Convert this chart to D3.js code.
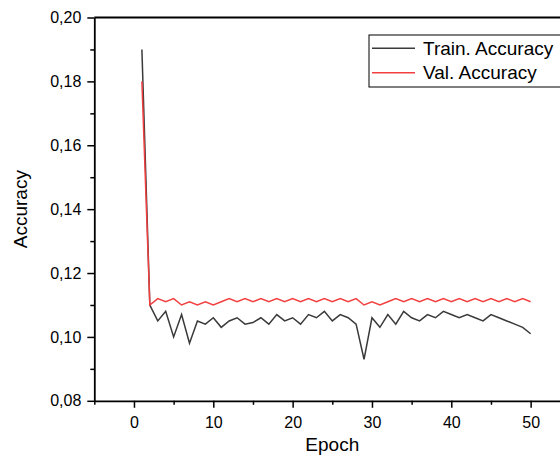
<!DOCTYPE html>
<html>
<head>
<meta charset="utf-8">
<script src="https://cdn.jsdelivr.net/npm/d3@7"></script>
<style>
  html, body { margin: 0; padding: 0; background: #fff; }
  svg { display: block; font-family: "Liberation Sans", Arial, sans-serif; }
</style>
</head>
<body>
<svg id="chart" width="560" height="456"></svg>
<script>
// DATA SECTION

let epochs = d3.range(1, 51);

let trainAcc = [0.190, 0.110, 0.105, 0.108, 0.100, 0.107, 0.098, 0.105, 0.104, 0.106,
                0.103, 0.105, 0.106, 0.104, 0.1045, 0.106, 0.104, 0.107, 0.105, 0.106,
                0.104, 0.107, 0.106, 0.108, 0.105, 0.107, 0.106, 0.104, 0.093, 0.106,
                0.103, 0.107, 0.104, 0.108, 0.106, 0.105, 0.107, 0.106, 0.108, 0.107,
                0.106, 0.107, 0.106, 0.105, 0.107, 0.106, 0.105, 0.104, 0.103, 0.101];

let valAcc = [0.180, 0.110, 0.112, 0.111, 0.112, 0.110, 0.111, 0.110, 0.111, 0.110,
              0.111, 0.112, 0.111, 0.112, 0.111, 0.112, 0.111, 0.112, 0.111, 0.112,
              0.111, 0.112, 0.111, 0.112, 0.111, 0.112, 0.111, 0.112, 0.110, 0.111,
              0.110, 0.111, 0.112, 0.111, 0.112, 0.111, 0.112, 0.111, 0.112, 0.111,
              0.112, 0.111, 0.112, 0.111, 0.112, 0.111, 0.112, 0.111, 0.112, 0.111];

let xTicks = [0, 10, 20, 30, 40, 50];
let yTicks = [0.08, 0.10, 0.12, 0.14, 0.16, 0.18, 0.20];
let seriesNames = ['Train. Accuracy', 'Val. Accuracy'];
let seriesColors = ['#3a3a3a', '#f24040'];

// SCALES

let svg = d3.select('#chart');

let x = d3.scaleLinear()
  .domain([-5, 55])
  .range([94.3, 570.3]);

let y = d3.scaleLinear()
  .domain([0.08, 0.20])
  .range([400.8, 17.5]);

let commaFmt = d3.formatLocale({decimal: ',', thousands: '.', grouping: [3], currency: ['', '']}).format('.2f');

// top frame line
svg.append('line')
  .attr('x1', x(-5)).attr('x2', x(55))
  .attr('y1', y(0.20)).attr('y2', y(0.20))
  .attr('stroke', '#000')
  .attr('stroke-width', 1.8);

// minor ticks
svg.append('g')
  .attr('transform', `translate(0,${y(0.08)})`)
  .call(d3.axisBottom(x).tickValues(d3.range(-5, 56, 10)).tickSize(4).tickFormat(''))
  .call(g => g.select('.domain').remove())
  .call(g => g.selectAll('.tick line').attr('stroke-width', 1.5));

svg.append('g')
  .attr('transform', `translate(${x(-5)},0)`)
  .call(d3.axisLeft(y).tickValues([0.09, 0.11, 0.13, 0.15, 0.17, 0.19]).tickSize(4).tickFormat(''))
  .call(g => g.select('.domain').remove())
  .call(g => g.selectAll('.tick line').attr('stroke-width', 1.5));

// x axis
svg.append('g')
  .attr('class', 'x-axis')
  .attr('transform', `translate(0,${y(0.08)})`)
  .call(d3.axisBottom(x).tickValues(xTicks).tickSize(7).tickSizeOuter(0).tickPadding(9))
  .call(g => g.select('.domain').attr('stroke-width', 1.8))
  .call(g => g.selectAll('.tick line').attr('stroke-width', 1.5))
  .call(g => g.selectAll('.tick text')
    .attr('font-family', '"Liberation Sans", Arial, sans-serif')
    .attr('font-size', 16)
    .attr('fill', '#000'));

// y axis
svg.append('g')
  .attr('class', 'y-axis')
  .attr('transform', `translate(${x(-5)},0)`)
  .call(d3.axisLeft(y).tickValues(yTicks).tickFormat(commaFmt).tickSize(7).tickSizeOuter(0).tickPadding(6))
  .call(g => g.select('.domain').attr('stroke-width', 1.8))
  .call(g => g.selectAll('.tick line').attr('stroke-width', 1.5))
  .call(g => g.selectAll('.tick text')
    .attr('font-family', '"Liberation Sans", Arial, sans-serif')
    .attr('font-size', 16)
    .attr('fill', '#000'));

// axis titles
svg.append('text')
  .attr('x', (x(-5) + x(55)) / 2)
  .attr('y', 451)
  .attr('text-anchor', 'middle')
  .attr('font-size', 19)
  .text('Epoch');

svg.append('text')
  .attr('transform', `translate(27,${(y(0.08) + y(0.20)) / 2}) rotate(-90)`)
  .attr('text-anchor', 'middle')
  .attr('font-size', 19)
  .text('Accuracy');

// lines
let line = d3.line()
  .x((d, i) => x(epochs[i]))
  .y(d => y(d));

[trainAcc, valAcc].forEach(function(s, k) {
  svg.append('path')
    .datum(s)
    .attr('fill', 'none')
    .attr('stroke', seriesColors[k])
    .attr('stroke-width', 1.5)
    .attr('stroke-linejoin', 'miter')
    .attr('d', line);
});

// legend
let legend = svg.append('g').attr('class', 'legend');
legend.append('rect')
  .attr('x', 369).attr('y', 35)
  .attr('width', 200).attr('height', 52)
  .attr('fill', '#fff')
  .attr('stroke', '#000')
  .attr('stroke-width', 1);

seriesNames.forEach(function(name, k) {
  let ly = 48.3 + k * 24.4;
  legend.append('line')
    .attr('x1', 372).attr('x2', 415)
    .attr('y1', ly).attr('y2', ly)
    .attr('stroke', seriesColors[k])
    .attr('stroke-width', 1.5);
  legend.append('text')
    .attr('x', 423)
    .attr('y', ly + 6.5)
    .attr('font-size', 19)
    .text(name);
});
</script>
</body>
</html>
